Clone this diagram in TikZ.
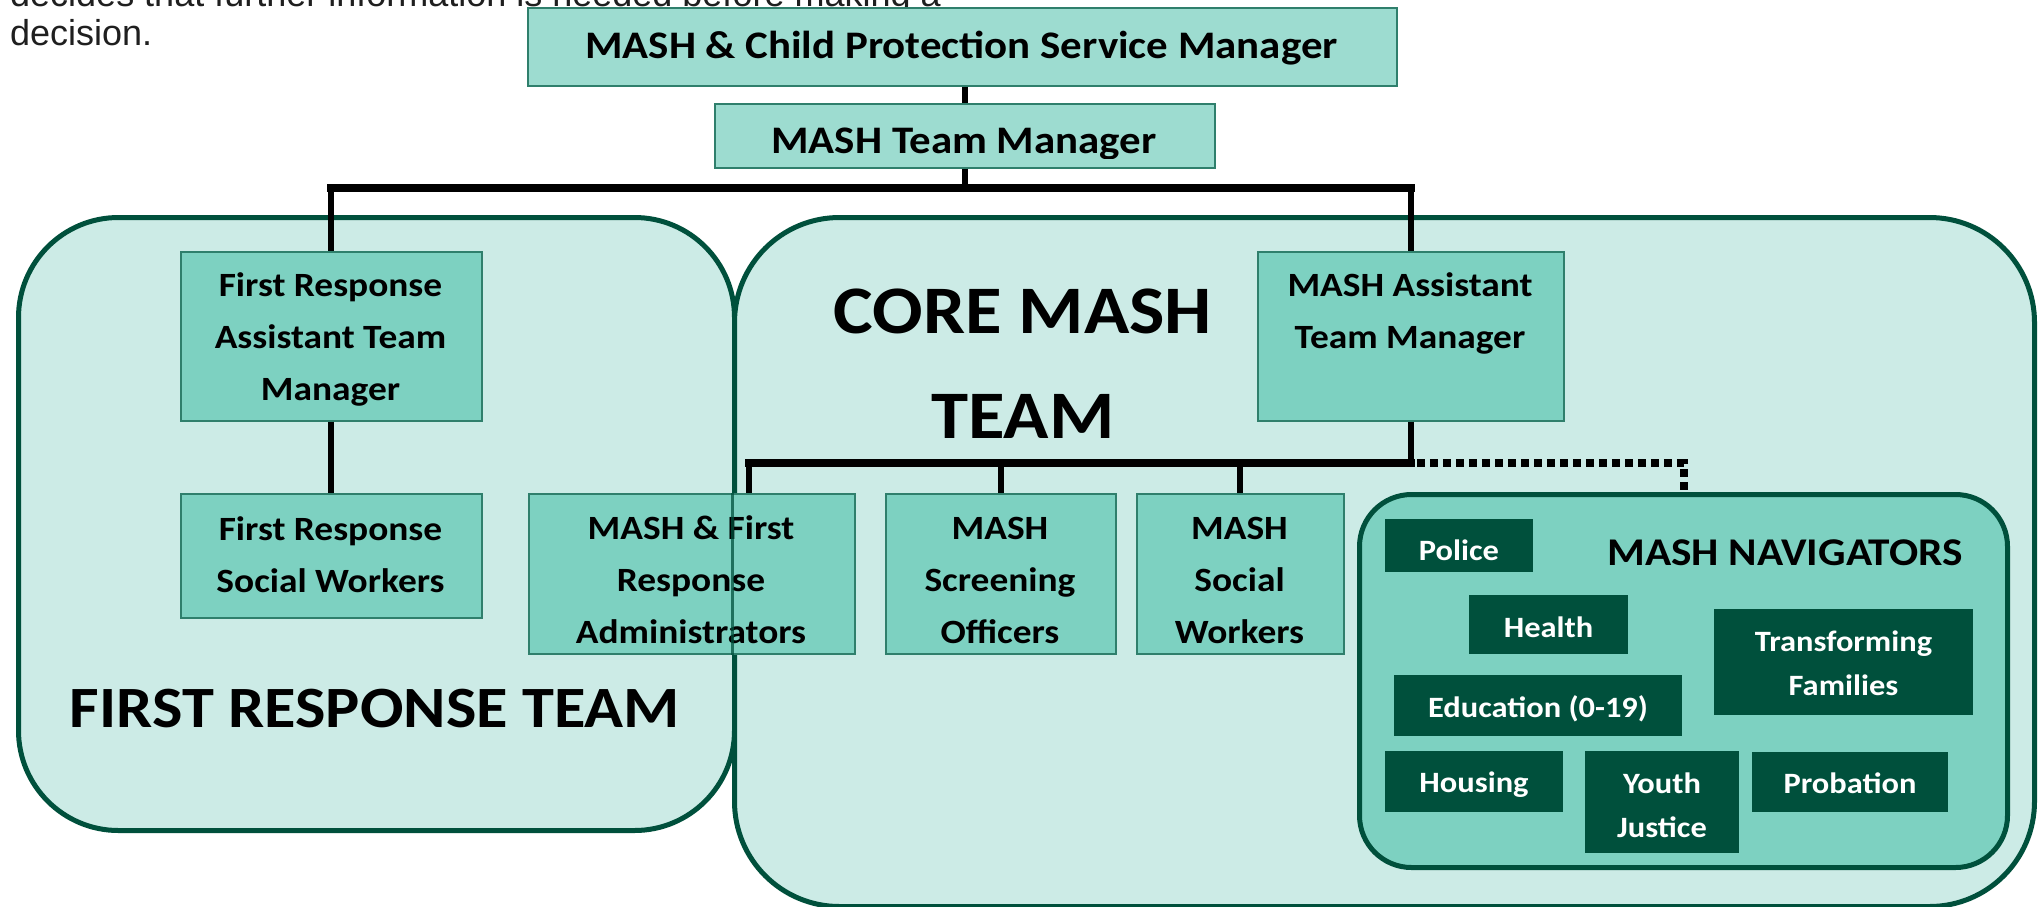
\documentclass[tikz,border=0pt]{standalone}
\usepackage{fontspec}
\setmainfont{Carlito}[FakeStretch=1.1]
\newfontfamily\arialfont{Liberation Sans}
\usetikzlibrary{calc}
\definecolor{lightbg}{HTML}{CCEBE6}
\definecolor{midfill}{HTML}{7DD1C1}
\definecolor{topfill}{HTML}{9DDCD0}
\definecolor{darkgreen}{HTML}{00503C}
\definecolor{boxline}{HTML}{2F7F6C}
\tikzset{
  teambox/.style={draw=darkgreen, line width=5pt, fill=lightbg, rounded corners=100pt, inner sep=0pt, anchor=north west},
  navgroup/.style={draw=darkgreen, line width=5pt, fill=midfill, rounded corners=52pt, inner sep=0pt, anchor=north west},
  rolebox/.style={draw=boxline, line width=1.5pt, fill=midfill, inner sep=0pt, anchor=north west},
  topbox/.style={draw=boxline, line width=1.5pt, fill=topfill, inner sep=0pt, anchor=north west},
  navbox/.style={fill=darkgreen, inner sep=0pt, anchor=north west},
  roletext/.style={font=\bfseries\fontsize{34}{52}\selectfont, align=center, text=black, inner sep=0pt, anchor=base},
  toptext/.style={font=\bfseries\fontsize{39}{44}\selectfont, text=black, inner sep=0pt, anchor=base},
  navtext/.style={font=\bfseries\fontsize{29.5}{43.5}\selectfont, align=center, text=white, inner sep=0pt, anchor=base},
  bigtext/.style={font=\bfseries, align=center, text=black, inner sep=0pt, anchor=base},
  introtext/.style={font=\arialfont\fontsize{36}{39}\selectfont, text=black!88, inner sep=0pt, anchor=base west},
  link/.style={line width=6pt, black},
  bar/.style={line width=8pt, black, line cap=rect},
  dotlink/.style={line width=8pt, black, dash pattern=on 8pt off 5pt},
}
\begin{document}
\begin{tikzpicture}[x=1pt,y=-1pt]
\useasboundingbox (0,0) rectangle (2040,906);
\clip (0,0) rectangle (2040,906);
\fill[white] (0,0) rectangle (2040,906);

% intro text (cut at the top)
\node[introtext] (intro1) at (10,6) {decides that further information is needed before making a};
\node[introtext] (intro2) at (10,45) {decision.};

% team areas
\node[teambox, minimum width=716pt, minimum height=613pt] (frteam) at (16,215) {};
\node[teambox, rounded corners=105pt, minimum width=1300pt, minimum height=689pt] (coreteam) at (732,215) {};

% top boxes
\node[topbox, minimum width=869pt, minimum height=78pt] (svc) at (527,7) {};
\node[toptext] (svct) at (961.5,58) {MASH \& Child Protection Service Manager};
\node[topbox, minimum width=500pt, minimum height=64pt] (mtm) at (714,103) {};
\begin{scope}
  \clip (mtm.north west) rectangle ([yshift=10pt]mtm.south east);
  \node[toptext] (mtmt) at (964,153) {MASH Team Manager};
\end{scope}

% role boxes (text anchored at the baseline of its last line)
\node[rolebox, minimum width=301pt, minimum height=169pt] (fratm) at (180,251) {};
\node[roletext] (fratmt) at (330.5,400) {First Response\\Assistant Team\\Manager};
\node[rolebox, minimum width=301pt, minimum height=124pt] (frsw) at (180,493) {};
\node[roletext] (frswt) at (330.5,592) {First Response\\Social Workers};
\node[rolebox, minimum width=326pt, minimum height=160pt] (adm) at (528,493) {};
\node[roletext] (admt) at (691,643) {MASH \& First\\Response\\Administrators};
\node[rolebox, minimum width=230pt, minimum height=160pt] (scr) at (885,493) {};
\node[roletext] (scrt) at (1000,643) {MASH\\Screening\\Officers};
\node[rolebox, minimum width=207pt, minimum height=160pt] (msw) at (1136,493) {};
\node[roletext] (mswt) at (1239.5,643) {MASH\\Social\\Workers};
\node[rolebox, minimum width=306pt, minimum height=169pt] (matm) at (1257,251) {};
\node[roletext] (matmt) at (1410,348) {MASH Assistant\\Team Manager};

% core box edge seen through the administrators box
\draw[darkgreen, opacity=0.75, line width=3pt] (adm.north -| coreteam.west) -- (adm.south -| coreteam.west);

% team titles
\node[bigtext, font=\bfseries\fontsize{68}{105}\selectfont] (coret) at (1023,438) {CORE MASH\\TEAM};
\node[bigtext, font=\bfseries\fontsize{58.5}{70}\selectfont] (frt) at (375,727) {FIRST RESPONSE TEAM};

% navigators
\node[navgroup, minimum width=648pt, minimum height=373pt] (nav) at (1357,492) {};
\node[bigtext, font=\bfseries\fontsize{39.3}{48}\selectfont] (navt) at (1785,565) {MASH NAVIGATORS};
\node[navbox, minimum width=148pt, minimum height=53pt] (police) at (1385,519) {};
\node[navtext] (policet) at (1459,560) {Police};
\node[navbox, minimum width=159pt, minimum height=59pt] (health) at (1469,595) {};
\node[navtext] (healtht) at (1548.5,637) {Health};
\node[navbox, minimum width=259pt, minimum height=106pt] (tf) at (1714,609) {};
\node[navtext] (tft) at (1843.5,695) {Transforming\\Families};
\node[navbox, minimum width=288pt, minimum height=61pt] (edu) at (1394,675) {};
\node[navtext] (edut) at (1538,717) {Education (0-19)};
\node[navbox, minimum width=178pt, minimum height=61pt] (housing) at (1385,751) {};
\node[navtext] (housingt) at (1474,792) {Housing};
\node[navbox, minimum width=154pt, minimum height=102pt] (yj) at (1585,751) {};
\node[navtext] (yjt) at (1662,837) {Youth\\Justice};
\node[navbox, minimum width=196pt, minimum height=60pt] (prob) at (1752,752) {};
\node[navtext] (probt) at (1850,793) {Probation};

% connectors
\coordinate (b1) at (965,188);
\coordinate (b2) at (1410,463);
\coordinate (admc) at ([xshift=-107pt]adm.north east);
\draw[link] (svc.south -| mtm.north) -- (mtm.north);
\draw[link] (mtm.south) -- (mtm.south |- b1);
\draw[bar] (fratm.north |- b1) -- (matm.north |- b1);
\draw[link] (fratm.north |- b1) -- (fratm.north);
\draw[link] (matm.north |- b1) -- (matm.north);
\draw[link] (fratm.south) -- (frsw.north);
\draw[link] (matm.south) -- (matm.south |- b2);
\draw[bar] (admc |- b2) -- (matm.south |- b2);
\draw[link] (admc |- b2) -- (admc);
\draw[link] (scr.north |- b2) -- (scr.north);
\draw[link] (msw.north |- b2) -- (msw.north);
\draw[dotlink] ([xshift=6pt]matm.south |- b2) -- (nav.north |- b2) -- (nav.north);
\end{tikzpicture}
\end{document}
